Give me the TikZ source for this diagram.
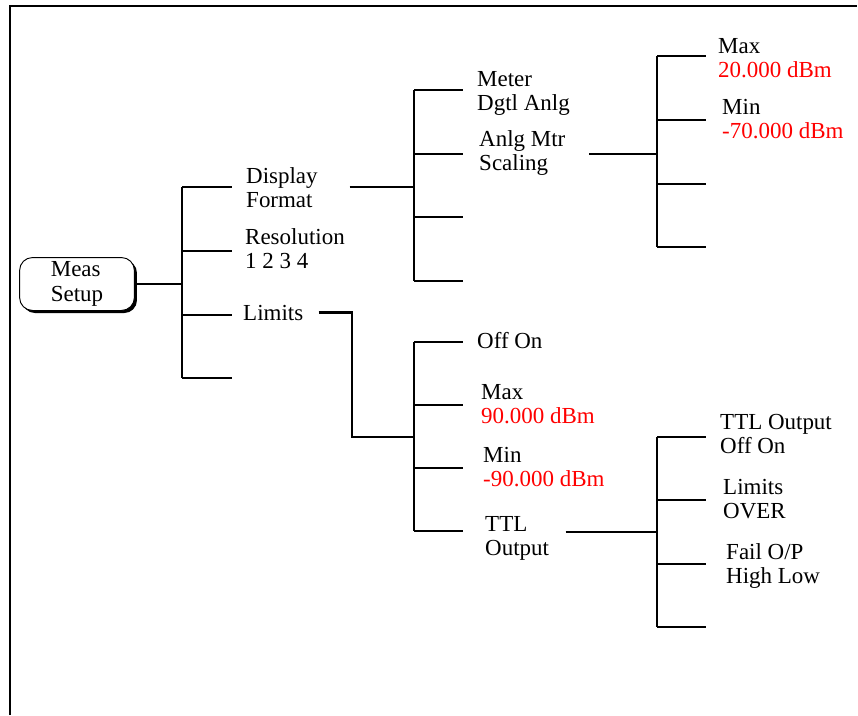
\documentclass[tikz,border=0pt]{standalone}
\usepackage{fontspec}
\setmainfont{Liberation Serif}
\usetikzlibrary{shadows}
\definecolor{valred}{rgb}{1,0,0}

\tikzset{
  lbl/.style={anchor=base west,align=left,inner sep=0pt,font=\fontsize{19.6}{20.2}\selectfont},
  tree/.style={line width=1.75pt},
  softkey/.style={draw,fill=white,line width=0.8pt,rounded corners=11pt,minimum width=98pt,
    minimum height=45pt,align=left,font=\fontsize{19.6}{21.5}\selectfont,
    drop shadow={shadow xshift=2.2pt,shadow yshift=-2.2pt,fill=black,opacity=1}},
}
\newcommand{\val}[1]{\textcolor{valred}{#1}}

\begin{document}
\begin{tikzpicture}[x=0.03cm,y=-0.03cm]
\useasboundingbox (0,0) rectangle (858,715);
\draw [line width=2.4pt] (10,715) -- (10,6) -- (857,6);

\node[softkey] (meas) at (77,284) {Meas\\Setup};

% first level (base = last line)
\node[lbl] (disp) at (246,207) {Display\\Format};
\node[lbl] (reso) at (245,268) {Resolution\\1 2 3 4};
\node[lbl] (lim) at (243,320) {Limits};
\foreach \y [count=\i] in {187,251,315,378}
  \coordinate (m\i) at (182,\y);
\coordinate (mmid) at (182,284);
\draw[tree] (m1) -- (m4);
\foreach \i in {1,...,4} \draw[tree] (m\i) -- ++(50,0);
\draw[tree] (meas.east |- mmid) -- (mmid);

% display format
\node[lbl] (meter) at (477,110) {Meter\\Dgtl Anlg};
\node[lbl] (anlg) at (479,170) {Anlg Mtr\\Scaling};
\foreach \y [count=\i] in {90,154,217,281}
  \coordinate (d\i) at (414,\y);
\coordinate (dmid) at (414,187);
\draw[tree] (d1) -- (d4);
\foreach \i in {1,...,4} \draw[tree] (d\i) -- ++(49,0);
\draw[tree] ([xshift=27pt]disp.east |- dmid) -- (dmid);

% analog meter scaling
\node[lbl] (max1) at (718,77) {Max\\\val{20.000 dBm}};
\node[lbl] (min1) at (722,138) {Min\\\val{-70.000 dBm}};
\foreach \y [count=\i] in {56,120,184,247}
  \coordinate (s\i) at (657,\y);
\draw[tree] (s1) -- (s4);
\foreach \i in {1,...,4} \draw[tree] (s\i) -- ++(49,0);
\draw[tree] ([xshift=20pt]anlg.east |- d2) -- (s2 |- d2);

% limits
\node[lbl] (offon) at (477,348) {Off On};
\node[lbl] (max2) at (481,423) {Max\\\val{90.000 dBm}};
\node[lbl] (min2) at (483,486) {Min\\\val{-90.000 dBm}};
\node[lbl] (ttl) at (485,555) {TTL\\Output};
\foreach \y [count=\i] in {342,405,468,531}
  \coordinate (l\i) at (414,\y);
\coordinate (lmid) at (414,437);
\draw[tree] (l1) -- (l4);
\foreach \i in {1,...,4} \draw[tree] (l\i) -- ++(49,0);
\draw[tree] ([xshift=13pt]lim.east) -- ++(33,0) |- (lmid);

% ttl output
\node[lbl] (ttlout) at (720,453) {TTL Output\\Off On};
\node[lbl] (limover) at (723,518) {Limits\\OVER};
\node[lbl] (fail) at (726,583) {Fail O/P\\High Low};
\foreach \y [count=\i] in {437,500,564,627}
  \coordinate (t\i) at (657,\y);
\coordinate (tmid) at (657,532);
\draw[tree] (t1) -- (t4);
\foreach \i in {1,...,4} \draw[tree] (t\i) -- ++(49,0);
\draw[tree] ([xshift=14pt]ttl.east |- tmid) -- (tmid);
\end{tikzpicture}
\end{document}
